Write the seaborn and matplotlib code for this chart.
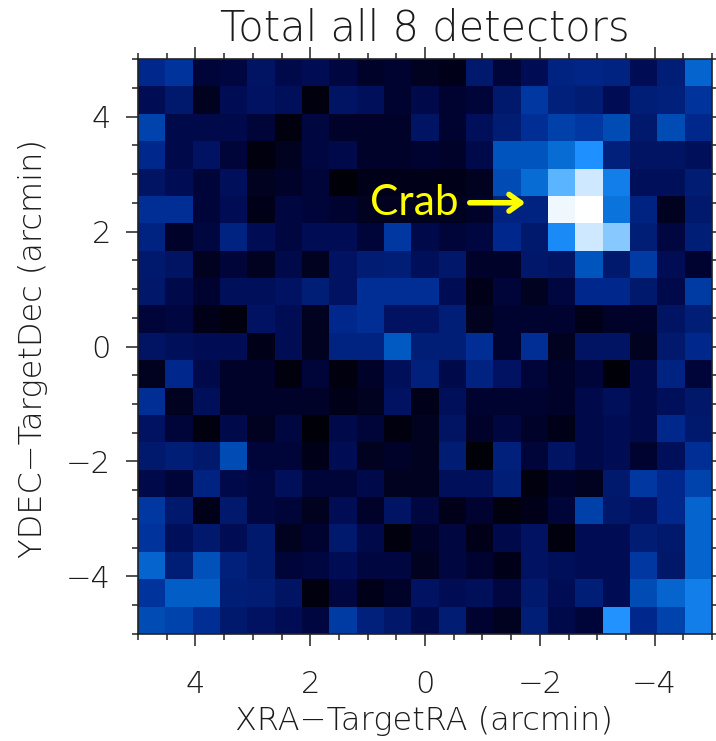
import numpy as np
import matplotlib
matplotlib.use("Agg")
import matplotlib.pyplot as plt
from matplotlib.colors import LinearSegmentedColormap
from matplotlib.ticker import FixedLocator
import seaborn as sns

row_00 = [20,24,6,7,12,8,9,7,4,5,3,2,14,6,9,18,19,18,9,16,36]
row_01 = [9,14,3,9,11,10,1,12,10,5,8,5,6,14,25,17,15,9,16,17,24]
row_02 = [28,8,8,8,6,1,7,4,4,4,12,5,10,15,22,27,25,30,14,30,20]
row_03 = [20,8,11,6,1,3,7,8,4,4,5,4,8,32,32,38,45,17,12,12,10]
row_04 = [12,9,6,10,3,4,6,0,2,2,2,2,3,30,38,58,85,42,10,10,15]
row_05 = [22,22,6,9,2,7,6,5,3,3,3,3,4,18,18,95,100,40,18,3,14]
row_06 = [18,4,7,18,9,7,9,9,6,25,8,6,7,20,14,44,85,68,16,7,16]
row_07 = [14,12,3,6,3,8,3,11,15,16,10,13,4,4,13,12,32,14,26,9,5]
row_08 = [13,8,5,10,10,11,16,11,22,22,22,9,2,6,3,7,20,20,14,8,26]
row_09 = [6,7,2,1,11,9,3,20,22,11,11,16,3,5,5,5,2,4,4,12,16]
row_10 = [12,10,9,9,2,9,3,18,18,33,16,16,22,5,22,3,12,12,3,14,20]
row_11 = [3,20,8,4,4,1,6,1,4,10,17,8,18,11,6,4,6,0,8,18,6]
row_12 = [22,3,10,4,4,4,4,2,3,11,2,10,5,5,5,4,8,10,8,10,13]
row_13 = [11,6,1,8,3,7,0,8,6,1,3,12,4,7,4,2,8,9,8,20,14]
row_14 = [14,16,14,30,6,6,2,9,3,4,3,15,0,17,6,12,8,9,5,10,22]
row_15 = [8,6,18,8,7,10,6,6,8,3,3,10,10,16,1,4,3,14,25,20,28]
row_16 = [25,14,2,14,7,6,3,9,4,12,7,2,5,1,2,6,27,13,11,20,36]
row_17 = [24,10,14,9,14,3,5,14,8,1,4,7,2,8,11,1,9,9,15,14,36]
row_18 = [36,16,31,17,14,6,7,9,7,7,3,7,5,2,11,10,9,9,25,13,36]
row_19 = [24,34,34,16,15,12,1,7,2,4,11,9,10,7,14,9,16,9,30,36,42]
row_20 = [30,28,22,14,11,9,7,26,17,13,8,15,5,3,16,8,6,46,20,28,42]
counts = np.array([row_00,row_01,row_02,row_03,row_04,row_05,row_06,row_07,row_08,row_09,
                   row_10,row_11,row_12,row_13,row_14,row_15,row_16,row_17,row_18,row_19,row_20], dtype=float)

major_ticks = [4, 2, 0, -2, -4]
major_labels = ["4", "2", "0", "\u22122", "\u22124"]
minor_ticks = [4.5,3.5,3,2.5,1.5,1,0.5,-0.5,-1,-1.5,-2.5,-3,-3.5,-4.5,5,-5]
title = "Total all 8 detectors"
xlabel = "XRA\u2212TargetRA (arcmin)"
ylabel = "YDEC\u2212TargetDec (arcmin)"
source_label = "Crab"

sns.set_theme(style="white")
plt.rcParams['font.family'] = ['DejaVu Sans']

stops = [(0,(0,0,8)),(5,(0,3,50)),(10,(0,16,92)),(15,(0,28,115)),(20,(0,40,140)),(25,(0,55,160)),
         (32,(0,85,190)),(40,(10,115,220)),(45,(30,144,255)),(60,(100,185,255)),(85,(205,232,255)),(100,(255,255,255))]
cmap = LinearSegmentedColormap.from_list("crab", [(s/100, tuple(c/255 for c in col)) for s, col in stops])

fig = plt.figure(figsize=(7.16, 7.41), dpi=100, facecolor="white")
ax = fig.add_axes([138/716, 1-634/741, 574/716, 575/741])
sns.heatmap(counts, ax=ax, cmap=cmap, vmin=0, vmax=100, cbar=False, square=False,
            xticklabels=False, yticklabels=False)

n = counts.shape[0]
def to_cell(v):
    return (5 - np.asarray(v, dtype=float)) * n / 10

ink = "#1c1c1c"
for name in ax.spines:
    ax.spines[name].set_visible(True)
    ax.spines[name].set_color("#222222")
    ax.spines[name].set_linewidth(1.2)

for axis in (ax.xaxis, ax.yaxis):
    axis.set_major_locator(FixedLocator(to_cell(major_ticks)))
    axis.set_minor_locator(FixedLocator(to_cell(minor_ticks)))
ax.set_xticklabels(major_labels)
ax.set_yticklabels(major_labels)
ax.tick_params(axis="both", which="major", length=8.6, width=1.1, color="#222222", direction="out",
               top=True, bottom=True, left=True, right=True, labelsize=22, labelcolor=ink, rotation=0)
ax.tick_params(axis="both", which="minor", length=4.6, width=1.1, color="#222222", direction="out",
               top=True, bottom=True, left=True, right=True)
ax.tick_params(axis="x", which="major", pad=17)
ax.tick_params(axis="y", which="major", pad=11)
for lab in ax.get_xticklabels() + ax.get_yticklabels():
    lab.set_fontweight(200)

fig.text(425/716, 1-28/741, title, ha="center", va="center", fontsize=30, color=ink, fontweight=200)
fig.text(424/716, 1-721/741, xlabel, ha="center", va="center", fontsize=23, color=ink, fontweight=200)
fig.text(33/716, 1-349/741, ylabel, ha="center", va="center", rotation=90, fontsize=23, color=ink, fontweight=200)

ax.text(to_cell(0.96), to_cell(2.5), source_label, color="#ffff00", ha="left", va="center",
        fontsize=30.5, family="Lato")
ax.annotate("", xy=(to_cell(-1.75), to_cell(2.5)), xytext=(to_cell(-0.78), to_cell(2.5)),
            arrowprops=dict(arrowstyle="->,head_length=0.7,head_width=0.5", color="#ffff00", lw=4,
                            shrinkA=0, shrinkB=0))

fig.savefig("out.png", dpi=100, facecolor="white")
